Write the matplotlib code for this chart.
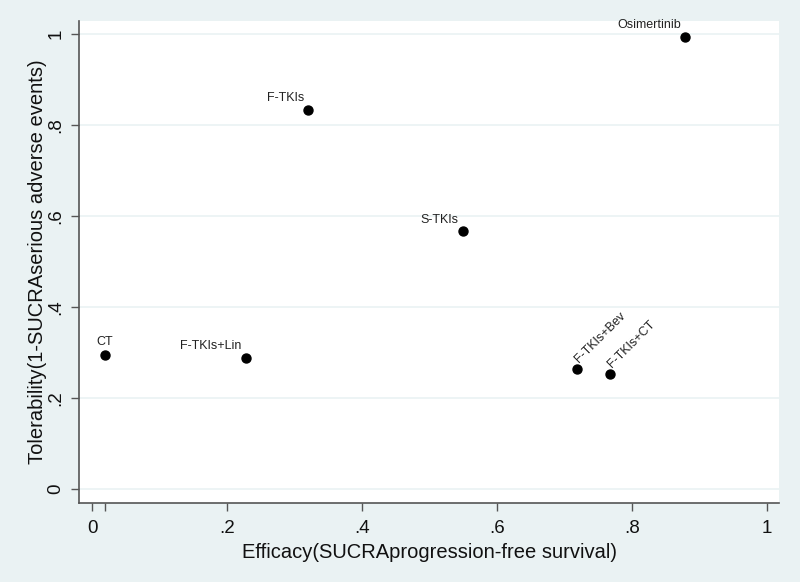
import numpy as np
import matplotlib.pyplot as plt

plt.rcParams['font.family'] = ['Liberation Sans', 'DejaVu Sans']

# SUCRA values
treatments = ['CT', 'F-TKIs+Lin', 'F-TKIs', 'S-TKIs', 'Osimertinib', 'F-TKIs+Bev', 'F-TKIs+CT']
efficacy = [0.019, 0.228, 0.320, 0.549, 0.879, 0.719, 0.768]
tolerability = [0.295, 0.288, 0.834, 0.566, 0.994, 0.263, 0.253]
rotated = ['F-TKIs+Bev', 'F-TKIs+CT']
centered = ['CT']

xticks = [0, 0.2, 0.4, 0.6, 0.8, 1]
xticklabels = ['0', '.2', '.4', '.6', '.8', '1']
yticks = [0, 0.2, 0.4, 0.6, 0.8, 1]
yticklabels = ['0', '.2', '.4', '.6', '.8', '1']

bg = '#eaf2f3'
fig = plt.figure(figsize=(8, 5.82), dpi=100, facecolor=bg)
ax = fig.add_axes([79 / 800, 1 - 503 / 582, 700 / 800, 482 / 582])
ax.set_facecolor('white')

ax.scatter(efficacy, tolerability, s=42, color='black', zorder=3)

for name, x, y in zip(treatments, efficacy, tolerability):
    if name in rotated:
        ax.annotate(name, (x, y), xytext=(3, 3), textcoords='offset points',
                    rotation=45, ha='left', va='bottom', fontsize=9,
                    rotation_mode='anchor', color='#222222')
    elif name in centered:
        ax.annotate(name, (x, y), xytext=(0, 5), textcoords='offset points',
                    ha='center', va='bottom', fontsize=9, color='#222222')
    else:
        ax.annotate(name, (x, y), xytext=(-3, 4), textcoords='offset points',
                    ha='right', va='bottom', fontsize=9, color='#222222')

ax.set_xlim(-0.0193, 1.0178)
ax.set_ylim(-0.0308, 1.0286)
ax.set_xticks(xticks)
ax.set_xticklabels(xticklabels)
ax.set_xticks([efficacy[0]], minor=True)
ax.set_yticks(yticks)
ax.set_yticklabels(yticklabels, rotation=90, va='center')

ax.grid(axis='y', color=bg, linewidth=1.2)
ax.set_axisbelow(True)
ax.tick_params(axis='both', which='major', length=5.5, width=1, color='#555555',
               labelsize=13.5, labelcolor='#111111', pad=7)
ax.tick_params(axis='y', which='major', pad=5)
ax.tick_params(axis='x', which='minor', length=5.5, width=1, color='#555555')

for side in ['top', 'right']:
    ax.spines[side].set_visible(False)
for side in ['left', 'bottom']:
    ax.spines[side].set_color('#555555')
    ax.spines[side].set_linewidth(1.2)

ax.set_xlabel('Efficacy(SUCRAprogression-free survival)', fontsize=14.5, color='#111111', labelpad=4)
ax.set_ylabel('Tolerability(1-SUCRAserious adverse events)', fontsize=14.5, color='#111111', labelpad=0)

fig.savefig('out.png', dpi=100, facecolor=bg)
